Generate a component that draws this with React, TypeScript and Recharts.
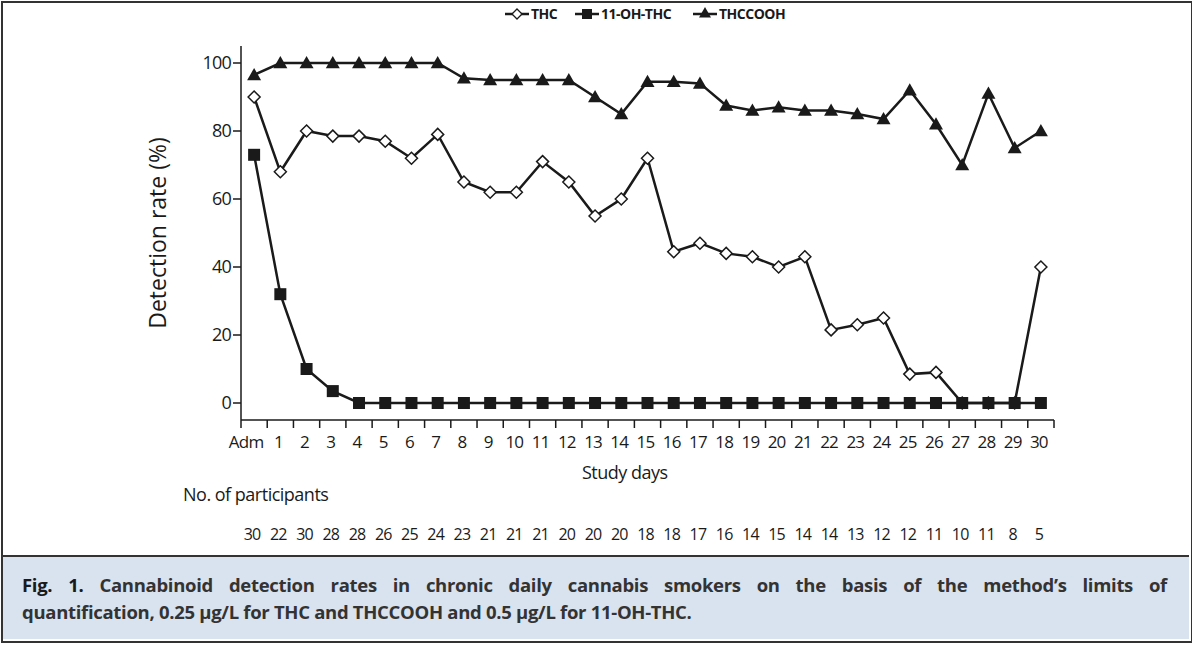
import React from 'react';
import { CartesianGrid, Label, Legend, Line, LineChart, XAxis, YAxis } from 'recharts';

const days = ['Adm', ...Array.from({ length: 30 }, (_, i) => String(i + 1))];
const thc = [90, 68, 80, 78.5, 78.5, 77, 72, 79, 65, 62, 62, 71, 65, 55, 60, 72, 44.5, 47, 44, 43, 40, 43, 21.5, 23, 25, 8.5, 9, 0, 0, 0, 40];
const ohThc = [73, 32, 10, 3.5, 0, 0, 0, 0, 0, 0, 0, 0, 0, 0, 0, 0, 0, 0, 0, 0, 0, 0, 0, 0, 0, 0, 0, 0, 0, 0, 0];
const thccooh = [96.5, 100, 100, 100, 100, 100, 100, 100, 95.5, 95, 95, 95, 95, 90, 85, 94.5, 94.5, 94, 87.5, 86, 87, 86, 86, 85, 83.5, 92, 82, 70, 91, 75, 80];
const participants = [30, 22, 30, 28, 28, 26, 25, 24, 23, 21, 21, 21, 20, 20, 20, 18, 18, 17, 16, 14, 15, 14, 14, 13, 12, 12, 11, 10, 11, 8, 5];
const yTicks = [0, 20, 40, 60, 80, 100];

const data = days.map((d, i) => ({ day: d, thc: thc[i], oh: ohThc[i], cooh: thccooh[i], n: participants[i] }));

const FONT = '"Open Sans", "Noto Sans", sans-serif';
const INK = '#1a1a1a';
const BAND = 813 / 31;

const diamond = (cx: number, cy: number, r = 6) => `M${cx},${cy - r}L${cx + r},${cy}L${cx},${cy + r}L${cx - r},${cy}Z`;
const tri = (cx: number, cy: number, r = 7) => `M${cx},${cy - r}L${cx + r},${cy + r * 0.75}L${cx - r},${cy + r * 0.75}Z`;

const DiamondDot = (p: any) => <path key={`d${p.index}`} d={diamond(p.cx, p.cy)} fill="#fff" stroke={INK} strokeWidth={1.5} />;
const SquareDot = (p: any) => <rect key={`s${p.index}`} x={p.cx - 6} y={p.cy - 6} width={12} height={12} fill={INK} />;
const TriDot = (p: any) => <path key={`t${p.index}`} d={tri(p.cx, p.cy)} fill={INK} />;

const DayTick = (p: any) => {
  const { x, y, payload, index } = p;
  const left = x - BAND / 2;
  return (
    <g>
      <line x1={left} y1={y - 8} x2={left} y2={y} stroke={INK} strokeWidth={1.5} />
      {index === 30 && <line x1={left + BAND} y1={y - 8} x2={left + BAND} y2={y} stroke={INK} strokeWidth={1.5} />}
      <text x={x - (index === 0 ? 8 : 2)} y={y + 20} textAnchor="middle" fontSize={17} fill={INK} fontFamily={FONT} letterSpacing={-0.8}>
        {payload.value}
      </text>
      <text x={x - 2} y={y + 112} textAnchor="middle" fontSize={16} fill={INK} fontFamily={FONT} letterSpacing={-0.8}>
        {participants[index]}
      </text>
    </g>
  );
};

const LegendContent = () => {
  const items = [
    { label: 'THC', mark: (cx: number) => <path d={diamond(cx, 0, 5)} fill="#fff" stroke={INK} strokeWidth={1.3} /> },
    { label: '11-OH-THC', mark: (cx: number) => <rect x={cx - 5} y={-5} width={10} height={10} fill={INK} /> },
    { label: 'THCCOOH', mark: (cx: number) => <path d={tri(cx, -1, 6)} fill={INK} /> },
  ];
  const widths = [70, 118, 100];
  let off = 0;
  return (
    <svg width={300} height={22} style={{ display: 'block', position: 'absolute', left: 505 - 170 }}>
      {items.map((it, i) => {
        const x0 = off;
        off += widths[i];
        return (
          <g key={it.label} transform={`translate(${x0},11)`}>
            <line x1={0} y1={0} x2={24} y2={0} stroke={INK} strokeWidth={2.5} />
            {it.mark(12)}
            <text x={26} y={5} fontSize={14} fontWeight={700} fill={INK} fontFamily={FONT} letterSpacing={-0.5}>
              {it.label}
            </text>
          </g>
        );
      })}
    </svg>
  );
};

export default function App() {
  return (
    <div style={{ position: 'absolute', left: 0, top: 0, width: 1192, height: 648, background: '#fff', fontFamily: FONT }}>
      <div style={{ position: 'absolute', left: 1, top: 1, width: 1188, height: 638, border: '2px solid #333' }} />
      <LineChart width={1192} height={545} data={data} margin={{ top: 46, right: 138, left: 170, bottom: 0 }} style={{ position: 'absolute', left: 0, top: 0 }}>
        <CartesianGrid stroke="none" />
        <Legend verticalAlign="top" content={LegendContent} wrapperStyle={{ top: 3, left: 170 }} />
        <XAxis dataKey="day" scale="band" interval={0} height={125} tick={DayTick} tickLine={false} axisLine={{ stroke: INK, strokeWidth: 1.5 }} />
        <YAxis
          domain={[-5, 105]}
          ticks={yTicks}
          width={71}
          tickSize={8}
          tick={{ fontSize: 18, fill: INK, fontFamily: FONT, letterSpacing: -0.8 }}
          tickLine={{ stroke: INK, strokeWidth: 1.5 }}
          axisLine={{ stroke: INK, strokeWidth: 1.5 }}
        >
          <Label value="Detection rate (%)" angle={-90} position="left" offset={12} style={{ fontSize: 23, fill: INK, fontFamily: FONT, textAnchor: 'middle' }} />
        </YAxis>
        <Line dataKey="cooh" stroke={INK} strokeWidth={2.5} dot={TriDot} isAnimationActive={false} />
        <Line dataKey="thc" stroke={INK} strokeWidth={2.5} dot={DiamondDot} isAnimationActive={false} />
        <Line dataKey="oh" stroke={INK} strokeWidth={2.5} dot={SquareDot} isAnimationActive={false} />
      </LineChart>
      <div style={{ position: 'absolute', left: 582, top: 460, fontSize: 18, color: INK, letterSpacing: -0.5 }}>Study days</div>
      <div style={{ position: 'absolute', left: 183, top: 482, fontSize: 18, color: INK, letterSpacing: -0.5 }}>No. of participants</div>
      <div
        style={{
          position: 'absolute', left: 3, top: 555, width: 1186, height: 84, background: '#d9e2ef', borderTop: '2px solid #333',
          boxSizing: 'border-box', padding: '14px 22px 0 19px', fontSize: 18.5, fontWeight: 700, color: '#333', lineHeight: '27px',
        }}
      >
        <div style={{ textAlign: 'justify', textAlignLast: 'justify', whiteSpace: 'nowrap', letterSpacing: -0.3 }}>
          <span style={{ color: '#1a1a1a' }}>Fig. 1.</span> Cannabinoid detection rates in chronic daily cannabis smokers on the basis of the method’s limits of
        </div>
        <div style={{ letterSpacing: -0.3 }}>quantification, 0.25 μg/L for THC and THCCOOH and 0.5 μg/L for 11-OH-THC.</div>
      </div>
    </div>
  );
}
